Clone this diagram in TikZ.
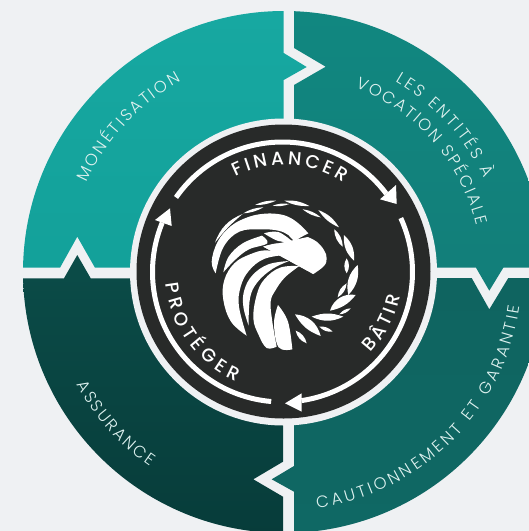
\documentclass[tikz,border=0pt]{standalone}
\usepackage{fontspec}
\usetikzlibrary{decorations.text}
\newfontfamily\labfam{Poppins Light}
\newfontfamily\headfam{Poppins Medium}
\definecolor{bgc}{HTML}{EFF1F3}
\definecolor{darkc}{HTML}{282A29}
\definecolor{labc}{HTML}{DDF1EF}
\definecolor{tlA}{RGB}{23,168,161}
\definecolor{tlB}{RGB}{19,161,154}
\definecolor{trA}{RGB}{17,135,128}
\definecolor{trB}{RGB}{18,126,121}
\definecolor{brA}{RGB}{15,100,96}
\definecolor{brB}{RGB}{15,104,100}
\definecolor{blA}{RGB}{11,76,72}
\definecolor{blB}{RGB}{7,60,58}
\newcommand\lab{\labfam\fontsize{16.5}{18}\selectfont\color{labc}}
\newcommand\hlab{\headfam\fontsize{18.5}{20}\selectfont\color{white}}
\tikzset{
  px/.style={x=1pt,y=-1pt},
  curvetext/.style args={#1 with #2}{decorate,decoration={text along path,text align={fit to path},text={|#2|#1}}},
  ringarc/.style={draw=white,line width=5pt}
}
% arc text: start angle, end angle, radius, format, text
\newcommand\arctext[5]{\path[curvetext={#5 with #4}] (284pt,-272pt) ++(#1:#3pt) arc[start angle=#1,end angle=#2,radius=#3pt];}
\newcommand\leaf[4]{\fill[white] (#1) to[bend left=#3] (#2) to[bend left=#4] (#1);}
\newcommand\feather[2]{\fill[white] plot[smooth,tension=.65] coordinates {#1} -- plot[smooth,tension=.65] coordinates {#2} -- cycle;}
\begin{document}
\begin{tikzpicture}[x=1pt,y=1pt]
\useasboundingbox (0,0) rectangle (529,-531);
\fill[bgc] (0,0) rectangle (529,-531);
\begin{scope}
\clip (284,-272) circle[radius=261pt];
\begin{scope}[px]
\shade[top color=tlA,bottom color=tlB]
  (20,10) -- (283.7,10) -- (283.7,53) -- (306.7,67) -- (283.7,80) -- (283.7,267.7) -- (95,267.7) -- (77.3,236.7) -- (60,267.7) -- (20,267.7) -- cycle;
\shade[top color=trA,bottom color=trB]
  (294,10) -- (548,10) -- (548,267.7) -- (503.3,267.7) -- (489.3,290.7) -- (476,267.7) -- (294,267.7) -- (294,85) -- (325.7,66.7) -- (294,48) -- cycle;
\shade[top color=brA,bottom color=brB]
  (294,278) -- (471.7,278) -- (489.3,309.3) -- (508.3,278) -- (548,278) -- (548,536) -- (294,536) -- (294,491.7) -- (271.7,479.3) -- (294,466) -- cycle;
\shade[top color=blA,bottom color=blB]
  (283,278.3) -- (90.7,278.3) -- (77.3,255) -- (64,278.3) -- (20,278.3) -- (20,536) -- (283,536) -- (283,496.7) -- (253.3,479.3) -- (283,461.7) -- cycle;
\end{scope}
\end{scope}
% centre disc
\fill[bgc] (283.5,-272) circle[radius=153.5pt];
\fill[darkc] (283.5,-271.5) circle[radius=147pt];
% ring arrows
\draw[ringarc] (282.5,-272) ++(145:130pt) arc[start angle=145,end angle=37,radius=130pt];
\draw[ringarc] (282.5,-272) ++(24.5:130pt) arc[start angle=24.5,end angle=-81.6,radius=130pt];
\draw[ringarc] (282.5,-272) ++(265:130pt) arc[start angle=265,end angle=157.7,radius=130pt];
\begin{scope}[px]
\fill[white] (396.7,204) -- (380,199.3) -- (396,185) -- cycle;
\fill[white] (285,403.3) -- (301.7,393.3) -- (301.7,411.7) -- cycle;
\fill[white] (170,208.3) -- (155,220) -- (171.7,226) -- cycle;
\end{scope}
% outer labels
\arctext{155.7}{118.3}{216.5}{\lab}{MONÉTISATION}
\arctext{59.7}{25}{221}{\lab}{LES ENTITÉS À}
\arctext{68.9}{13.6}{198}{\lab}{VOCATION SPÉCIALE}
\arctext{-82}{-8.2}{238.5}{\lab}{CAUTIONNEMENT ET GARANTIE}
\arctext{208.6}{235.5}{236}{\lab}{ASSURANCE}
% ring labels
\arctext{117}{56.5}{107}{\hlab}{FINANCER}
\arctext{-43}{-12}{118.5}{\hlab}{BÂTIR}
\arctext{185.7}{246.5}{119}{\hlab}{PROTÉGER}
% eagle
\begin{scope}[shift={(200,-190)},x=.33333pt,y=-.33333pt]
% crown band
\feather{(47,250) (35,215) (53,155) (93,108) (145,81) (195,71) (240,73) (272,84) (302,106) (325,130)}
        {(325,130) (300,143) (282,152) (265,135) (235,122) (185,118) (118,125) (70,172) (47,250)}
% eye
\feather{(192,130) (235,126) (279,156)}{(279,156) (235,153) (192,130)}
% head and beak
\feather{(190,170) (230,160) (280,162) (323,141)}{(323,141) (350,155) (372,180) (380,205) (372,228) (340,252)}
\fill[white] (190,170) -- (323,141) -- (340,252) -- cycle;
\feather{(340,252) (333,225) (310,200) (270,182) (190,170)}{(190,170) (260,170) (340,252)}
% feathers
\feather{(70,247) (86,200) (128,160) (186,137)}{(186,137) (202,160) (147,178) (107,208) (70,247)}
\feather{(140,437) (93,395) (70,330) (73,270) (103,220) (150,193) (200,181) (254,195)}
        {(254,195) (192,207) (147,242) (122,290) (117,350) (140,437)}
\feather{(146,407) (130,350) (133,300) (158,255) (205,223) (267,213)}
        {(267,213) (217,237) (172,277) (150,325) (146,407)}
\feather{(298,228) (240,233) (193,268) (170,315) (160,385) (176,435) (200,474) (230,470)}
        {(230,470) (217,395) (212,335) (227,300) (255,262) (298,228)}
\feather{(234,345) (264,395) (277,478)}{(277,478) (236,472) (222,400) (234,345)}
% wreath leaves
\leaf{45,158}{128,72}{24}{-6}
\leaf{130,70}{190,52}{14}{12}
\leaf{165,45}{228,32}{14}{12}
\leaf{218,47}{268,42}{14}{14}
\leaf{253,32}{328,48}{16}{14}
\leaf{308,58}{362,82}{16}{14}
\leaf{355,60}{417,112}{18}{16}
\leaf{403,118}{428,170}{24}{24}
\leaf{432,135}{462,212}{26}{26}
\leaf{440,205}{440,250}{32}{32}
\leaf{473,225}{445,315}{26}{30}
\leaf{440,280}{413,322}{26}{26}
\leaf{467,315}{390,362}{20}{42}
\leaf{452,355}{418,373}{24}{24}
\leaf{430,380}{335,380}{26}{20}
\leaf{398,425}{358,410}{26}{26}
\leaf{362,438}{285,373}{20}{36}
\leaf{320,460}{287,422}{28}{28}
\end{scope}
\end{tikzpicture}
\end{document}
